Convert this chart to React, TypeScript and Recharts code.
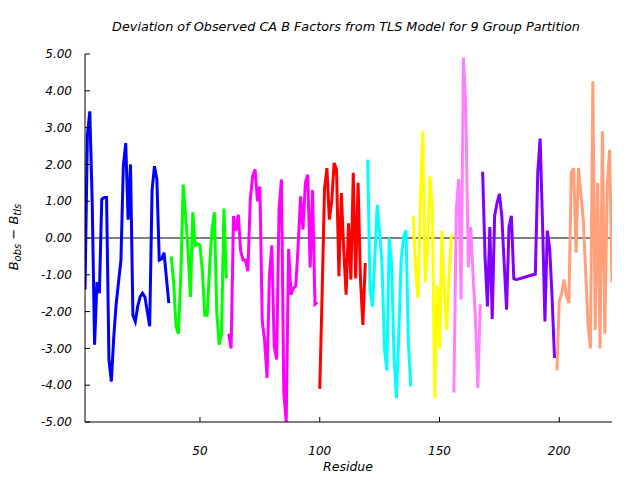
import { LineChart, Line, XAxis, YAxis, ReferenceLine } from 'recharts'

// residue numbers run consecutively from each group's start residue
const blueStart = 2
const blueVals = [
  -1.4, 2.8, 3.44, 1.0, -2.9, -1.2, -1.5, 1.05, 1.1, 1.1, -3.3, -3.9, -2.7, -1.8, -1.2, -0.6,
  1.95, 2.58, 0.5, 2.0, -2.1, -2.27, -1.86, -1.6, -1.5, -1.6, -2.0, -2.4, 1.3, 1.95, 1.6, -0.6,
  -0.57, -0.4, -1.1, -1.77,
]
const greenStart = 38
const greenVals = [
  -0.5, -1.2, -2.4, -2.6, -1.0, 1.45, 0.6, -0.3, -1.6, 0.7, -0.2, -0.15, -0.2, -0.9, -2.1, -2.1,
  -0.8, 0.2, 0.7, -2.0, -2.9, -2.6, 0.8, -1.1,
]
const magentaStart = 62
const magentaVals = [
  -2.6, -3.0, 0.6, 0.2, 0.63, -0.36, -0.6, -0.6, -0.9, 1.04, 1.68, 1.86, 1.0, 1.4, -2.26, -2.8,
  -3.8, -1.0, -0.2, -2.95, -3.3, 0.77, 1.59, -4.2, -5.0, -0.3, -1.54, -1.36, -1.3, -0.2, 1.13,
  0.23, 1.5, 1.72, -0.8, 1.3, -1.8, -1.75,
]
const redStart = 100
const redVals = [
  -4.1, -1.5, 1.35, 1.9, 0.5, 1.0, 2.04, 1.86, -1.04, 1.22, -0.3, -1.54, 0.4, -1.13, 1.77, -1.1,
  1.5, -1.13, -2.36, -0.68,
]
const cyanStart = 120
const cyanVals = [
  2.13, -1.4, -1.86, -0.5, 0.9, 0.14, -0.7, -3.0, -3.6, 0.0, -0.7, -3.2, -4.35, -2.6, -0.6, 0.04,
  0.2, -2.85, -4.03,
]
const yellowStart = 139
const yellowVals = [
  0.6, -0.8, -1.63, 1.0, 2.9, -1.2, -0.3, 1.68, 0.8, -4.35, -1.3, -3.0, 0.2, -1.5, -2.5, -1.0, 0.1,
]
const pinkStart = 156
const pinkVals = [-4.2, 0.77, 1.6, -1.67, 4.9, 3.5, -0.8, 0.3, -1.0, -2.2, -4.08, -1.8]
// purple has a gap in numbering (183-189 absent)
const purpleStart = 168
const purpleVals = [1.8, -0.5, -1.86, 0.3, -2.2, 0.6, 0.95, 1.2, 0.6, -0.7, -1.95, 0.3, 0.6, -1.1, -1.13]
const purpleTailStart = 190
const purpleTailVals = [-0.98, 1.77, 2.7, 0.4, -2.27, 0.2, -0.3, -1.63, -3.26]
const salmonStart = 199
const salmonVals = [
  -3.6, -1.72, -1.5, -1.13, -1.58, -1.77, 1.77, 1.9, -0.4, 1.9, 1.2, 0.5, -0.9, -2.36, -3.0, 4.26,
  -2.5, 1.5, -3.0, 2.9, -2.6, 1.4, 2.4, -1.2,
]

const xTicks = [50, 100, 150, 200]
const yTicks = [-5, -4, -3, -2, -1, 0, 1, 2, 3, 4, 5]

const toPoints = (start: number, vals: number[]) => vals.map((y, i) => ({ x: start + i, y }))

const groups = [
  { name: 'g1', color: '#0000ff', data: toPoints(blueStart, blueVals) },
  { name: 'g2', color: '#00ff00', data: toPoints(greenStart, greenVals) },
  { name: 'g3', color: '#ff00ff', data: toPoints(magentaStart, magentaVals) },
  { name: 'g4', color: '#ff0000', data: toPoints(redStart, redVals) },
  { name: 'g5', color: '#00ffff', data: toPoints(cyanStart, cyanVals) },
  { name: 'g6', color: '#ffff00', data: toPoints(yellowStart, yellowVals) },
  { name: 'g7', color: '#ff80ff', data: toPoints(pinkStart, pinkVals) },
  {
    name: 'g8',
    color: '#8000ff',
    data: [...toPoints(purpleStart, purpleVals), ...toPoints(purpleTailStart, purpleTailVals)],
  },
  { name: 'g9', color: '#ffa07a', data: toPoints(salmonStart, salmonVals) },
]

const font = "'DejaVu Sans', sans-serif"
const tickStyle = { fill: '#000', fontSize: 12, fontStyle: 'italic', fontFamily: font }

export default function App() {
  return (
    <div style={{ position: 'absolute', left: 0, top: 0, width: 640, height: 480, background: '#fff' }}>
      <LineChart width={640} height={480} margin={{ top: 54, right: 28, bottom: 0, left: 0 }}>
        <XAxis
          dataKey="x"
          type="number"
          domain={[2, 222]}
          allowDataOverflow
          ticks={xTicks}
          tickSize={-5}
          tickMargin={29}
          height={58}
          axisLine={{ stroke: '#000' }}
          tickLine={{ stroke: '#000' }}
          tick={tickStyle}
        />
        <XAxis
          xAxisId="top"
          orientation="top"
          dataKey="x"
          type="number"
          domain={[2, 222]}
          allowDataOverflow
          ticks={xTicks}
          tickSize={-5}
          height={0}
          tick={false}
          axisLine={{ stroke: '#000' }}
          tickLine={{ stroke: '#000' }}
        />
        <YAxis
          type="number"
          domain={[-5, 5]}
          allowDataOverflow
          ticks={yTicks}
          tickFormatter={(v: number) => v.toFixed(2)}
          tickSize={-5}
          tickMargin={18}
          width={85}
          axisLine={{ stroke: '#000' }}
          tickLine={{ stroke: '#000' }}
          tick={tickStyle}
        />
        <YAxis
          yAxisId="right"
          orientation="right"
          type="number"
          domain={[-5, 5]}
          allowDataOverflow
          ticks={yTicks}
          tickSize={-5}
          width={0}
          tick={false}
          axisLine={{ stroke: '#000' }}
          tickLine={{ stroke: '#000' }}
        />
        <ReferenceLine y={0} stroke="#000" strokeWidth={1} />
        {groups.map((g) => (
          <Line
            key={g.name}
            data={g.data}
            dataKey="y"
            type="linear"
            stroke={g.color}
            strokeWidth={3}
            dot={false}
            activeDot={false}
            isAnimationActive={false}
          />
        ))}
      </LineChart>
      <svg width={640} height={480} style={{ position: 'absolute', left: 0, top: 0, pointerEvents: 'none' }}>
        <text x={346} y={31} textAnchor="middle" fontSize={12.8} fontStyle="italic" fontFamily={font} fill="#000">
          Deviation of Observed CA B Factors from TLS Model for 9 Group Partition
        </text>
        <text x={348} y={471} textAnchor="middle" fontSize={12.5} fontStyle="italic" fontFamily={font} fill="#000">
          Residue
        </text>
        <text
          transform="translate(18,237) rotate(-90)"
          textAnchor="middle"
          fontSize={13}
          fontStyle="italic"
          fontFamily={font}
          fill="#000"
        >
          B<tspan fontSize={10} dy={3}>obs</tspan>
          <tspan dy={-3}> − B</tspan>
          <tspan fontSize={10} dy={3}>tls</tspan>
        </text>
      </svg>
    </div>
  )
}
